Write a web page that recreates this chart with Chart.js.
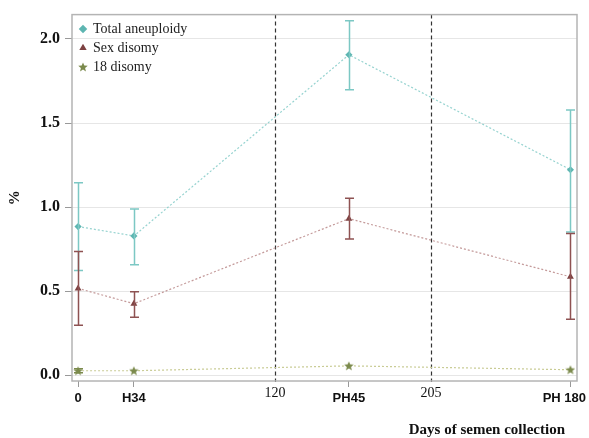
<!DOCTYPE html>
<html><head><meta charset="utf-8">
<script src="https://cdn.jsdelivr.net/npm/chart.js@4"></script>
<style>html,body{margin:0;padding:0;background:#fff}#wrap{width:589px;height:438px}</style>
</head><body><div id="wrap"><canvas id="c" width="589" height="438"></canvas></div>
<script>
// x positions (days) and their tick labels
const sampleDays = [0, 34, 165, 300];
const sampleLabels = ['0', 'H34', 'PH45', 'PH 180'];
const dividerDays = [120, 215];
const dividerLabels = ['120', '205'];
// series values (%)
const totalMean = [0.884, 0.828, 1.906, 1.222];
const totalLow  = [0.623, 0.656, 1.698, 0.852];
const totalHigh = [1.145, 0.988, 2.109, 1.578];
const sexMean = [0.516, 0.425, 0.931, 0.585];
const sexLow  = [0.297, 0.344, 0.810, 0.332];
const sexHigh = [0.735, 0.496, 1.053, 0.842];
const c18Mean = [0.026, 0.026, 0.055, 0.032];
const c18Low  = [0.014, null, null, null];
const c18High = [0.038, null, null, null];
const yTicks = [0, 0.5, 1.0, 1.5, 2.0];
const xTitle = 'Days of semen collection';

function starImage(color){
  const cv = document.createElement('canvas');
  cv.width = 10; cv.height = 10;
  const g = cv.getContext('2d');
  g.fillStyle = color;
  g.beginPath();
  for (let i = 0; i < 10; i++) {
    const r = i % 2 === 0 ? 5 : 2.2;
    const a = -Math.PI/2 + i*Math.PI/5;
    const px = 5 + r*Math.cos(a), py = 5.4 + r*Math.sin(a);
    i === 0 ? g.moveTo(px, py) : g.lineTo(px, py);
  }
  g.closePath(); g.fill();
  return cv;
}
const star = starImage('#7b8a4c');

function pts(means){ return sampleDays.map((d,i)=>({x:d, y:means[i]})); }

const errorBars = {
  id: 'errorBars',
  afterDatasetsDraw(chart){
    const {ctx, scales:{x, y}} = chart;
    chart.data.datasets.forEach(ds => {
      if (!ds.errLow) return;
      ctx.save();
      ctx.strokeStyle = ds.errColor; ctx.lineWidth = 1.5;
      sampleDays.forEach((d,i) => {
        if (ds.errLow[i] == null) return;
        const px = Math.round(x.getPixelForValue(d)) + 0.5;
        const y1 = y.getPixelForValue(ds.errLow[i]);
        const y2 = y.getPixelForValue(ds.errHigh[i]);
        ctx.beginPath();
        ctx.moveTo(px, y1); ctx.lineTo(px, y2);
        ctx.moveTo(px-4.5, y1); ctx.lineTo(px+4.5, y1);
        ctx.moveTo(px-4.5, y2); ctx.lineTo(px+4.5, y2);
        ctx.stroke();
      });
      ctx.restore();
    });
  }
};

const frame = {
  id: 'frame',
  afterLayout(chart){
    const lg = chart.legend;
    if (lg) { lg.top += 17; lg.bottom += 17; lg.left += 3; lg.right += 3; }
  },
  beforeDatasetsDraw(chart){
    const {ctx, chartArea:a, scales:{x}} = chart;
    ctx.save();
    ctx.strokeStyle = '#333'; ctx.lineWidth = 1.2; ctx.setLineDash([4,3]);
    dividerDays.forEach(d => {
      const px = Math.round(x.getPixelForValue(d)) + 0.5;
      ctx.beginPath(); ctx.moveTo(px, a.top); ctx.lineTo(px, a.bottom + 1); ctx.stroke();
    });
    ctx.setLineDash([]);
    ctx.strokeStyle = '#b4b4b4'; ctx.lineWidth = 1.5;
    ctx.strokeRect(a.left, a.top, a.right - a.left, a.bottom - a.top);
    ctx.restore();
  },
  afterDraw(chart){
    const {ctx, scales:{x}} = chart;
    const W = chart.width;
    ctx.save();
    ctx.fillStyle = '#111';
    ctx.textAlign = 'center'; ctx.textBaseline = 'middle';
    // sample-day tick labels (kept inside the canvas)
    ctx.font = 'bold 13px "Liberation Sans"';
    sampleDays.forEach((d, i) => {
      const w = ctx.measureText(sampleLabels[i]).width;
      const px = Math.min(x.getPixelForValue(d), W - 3 - w / 2);
      ctx.fillText(sampleLabels[i], px, 398);
    });
    // divider tick labels
    ctx.font = '14px "Liberation Serif"';
    dividerDays.forEach((d, i) => {
      ctx.fillText(dividerLabels[i], x.getPixelForValue(d), 393);
    });
    // axis title
    ctx.font = 'bold 15px "Liberation Serif"';
    ctx.textAlign = 'right';
    ctx.fillText(xTitle, 565, 430);
    ctx.restore();
  }
};

new Chart(document.getElementById('c'), {
  type: 'line',
  data: {
    datasets: [
      { label: 'Total aneuploidy', data: pts(totalMean), borderColor: '#96d3d0', borderWidth: 1.2, borderDash: [2,2],
        pointStyle: 'rectRot', pointRadius: 3.6, pointBackgroundColor: '#5db5b1', pointBorderColor: '#5db5b1', pointBorderWidth: 0,
        errLow: totalLow, errHigh: totalHigh, errColor: '#7cc8c4' },
      { label: 'Sex disomy', data: pts(sexMean), borderColor: '#c49a9a', borderWidth: 1.2, borderDash: [2,2],
        pointStyle: 'triangle', pointRadius: 4, pointBackgroundColor: '#7d4242', pointBorderColor: '#7d4242', pointBorderWidth: 0,
        errLow: sexLow, errHigh: sexHigh, errColor: '#8e5252' },
      { label: '18 disomy', data: pts(c18Mean), borderColor: '#c9cc95', borderWidth: 1.2, borderDash: [2,2],
        pointStyle: star, pointRadius: 5, pointBackgroundColor: '#7b8a4c', pointBorderColor: '#7b8a4c',
        errLow: c18Low, errHigh: c18High, errColor: '#7b8a4c' }
    ]
  },
  options: {
    responsive: false, animation: false,
    layout: { padding: { top: 14, right: 12, left: 0, bottom: 0 } },
    plugins: {
      tooltip: { enabled: false },
      legend: {
        position: 'chartArea', align: 'start',
        labels: {
          usePointStyle: true, boxWidth: 6, boxHeight: 6, padding: 5,
          color: '#222', font: { family: 'Liberation Serif', size: 14 }
        }
      }
    },
    scales: {
      x: {
        type: 'linear', position: 'bottom', min: -3.7, max: 304,
        afterBuildTicks: s => { s.ticks = sampleDays.map(v => ({ value: v })); },
        afterFit: s => { s.height = 57; s.paddingLeft = 0; s.paddingRight = 0; },
        grid: { drawOnChartArea: false, drawTicks: true, tickLength: 6, tickColor: '#999' },
        border: { display: false },
        ticks: { display: false }
      },
      y: {
        min: -0.035, max: 2.145,
        afterBuildTicks: s => { s.ticks = yTicks.map(v => ({ value: v })); },
        afterFit: s => { s.width = 72; },
        grid: { color: '#e6e6e6', lineWidth: 1, tickColor: '#999', tickLength: 7 },
        border: { display: false },
        ticks: { color: '#111', padding: 5, callback: v => v.toFixed(1),
          font: { family: 'Liberation Serif', size: 16, weight: 'bold' } },
        title: { display: true, text: '%', color: '#111', padding: { top: 6, bottom: 10 },
          font: { family: 'Liberation Serif', size: 15, weight: 'bold' } }
      }
    }
  },
  plugins: [frame, errorBars]
});
</script></body></html>
